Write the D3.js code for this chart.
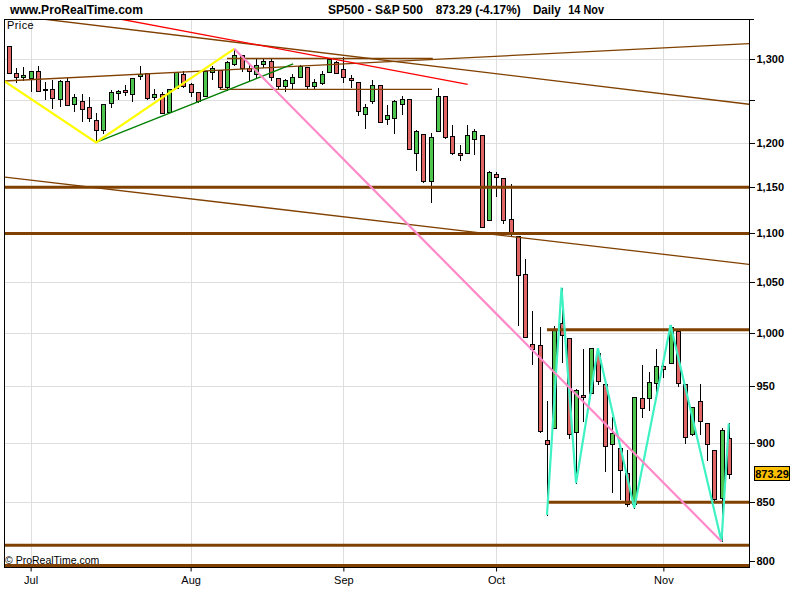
<!DOCTYPE html>
<html><head><meta charset="utf-8">
<script src="https://cdnjs.cloudflare.com/ajax/libs/d3/7.8.5/d3.min.js"></script>
<style>body{margin:0;background:#fff}svg{display:block}</style>
</head><body>
<svg id="c" width="800" height="600"></svg>
<script>
// ---------- DATA ----------
const dates = ["06-26","06-27","06-30",
"07-01","07-02","07-03","07-07","07-08","07-09","07-10","07-11","07-14","07-15","07-16","07-17","07-18","07-21","07-22","07-23","07-24","07-25","07-28","07-29","07-30","07-31",
"08-01","08-04","08-05","08-06","08-07","08-08","08-11","08-12","08-13","08-14","08-15","08-18","08-19","08-20","08-21","08-22","08-25","08-26","08-27","08-28","08-29",
"09-02","09-03","09-04","09-05","09-08","09-09","09-10","09-11","09-12","09-15","09-16","09-17","09-18","09-19","09-22","09-23","09-24","09-25","09-26","09-29","09-30",
"10-01","10-02","10-03","10-06","10-07","10-08","10-09","10-10","10-13","10-14","10-15","10-16","10-17","10-20","10-21","10-22","10-23","10-24","10-27","10-28","10-29","10-30","10-31",
"11-03","11-04","11-05","11-06","11-07","11-10","11-11","11-12","11-13","11-14"];

const openV = [1316.29,1283.60,1278.06,
1276.69,1285.82,1262.96,1262.90,1251.84,1273.38,1245.25,1248.66,1241.61,1226.83,1214.65,1246.31,1258.22,1261.82,1257.08,1278.87,1283.22,1253.51,1257.76,1236.38,1264.52,1281.37,
1269.42,1260.31,1254.87,1283.99,1286.51,1266.29,1294.42,1304.79,1288.64,1282.11,1293.85,1298.14,1276.65,1267.34,1271.07,1277.59,1290.47,1267.03,1271.29,1283.79,1296.49,
1287.83,1276.61,1271.80,1233.21,1249.50,1267.98,1227.50,1229.04,1245.88,1250.92,1188.31,1210.34,1157.08,1213.11,1255.37,1207.61,1188.79,1187.87,1204.47,1209.07,1113.78,
1164.17,1160.64,1115.16,1097.56,1057.60,988.91,988.42,902.31,912.75,1009.97,994.60,909.53,942.29,943.51,980.40,951.67,899.08,895.22,874.28,848.92,939.51,939.38,953.11,
968.67,971.31,1001.84,952.40,907.44,936.75,917.15,893.39,853.13,904.36];

const highV = [1316.29,1289.45,1290.31,
1285.31,1292.17,1271.48,1273.95,1274.17,1277.36,1257.65,1257.27,1253.50,1234.35,1245.52,1262.31,1262.23,1267.74,1277.42,1291.17,1283.22,1263.23,1260.09,1263.20,1284.33,1284.93,
1270.52,1260.31,1284.88,1291.67,1286.51,1297.85,1313.15,1304.79,1294.03,1300.11,1302.05,1300.22,1276.65,1276.01,1281.40,1293.09,1290.47,1275.65,1285.05,1300.68,1297.59,
1303.04,1280.60,1271.80,1244.94,1274.42,1268.66,1243.90,1249.98,1255.09,1250.92,1214.84,1210.34,1211.14,1265.12,1255.37,1221.15,1197.41,1220.03,1215.77,1209.07,1168.03,
1167.03,1160.64,1153.82,1097.56,1072.91,1021.06,1005.25,936.36,1006.93,1044.31,994.60,947.71,984.64,985.40,985.44,951.67,922.83,896.30,893.78,940.51,969.97,963.23,984.38,
975.57,1007.51,1001.84,952.40,931.46,951.95,917.15,893.39,913.01,916.88];

const lowV = [1283.15,1272.00,1274.86,
1260.68,1261.51,1252.01,1240.68,1242.84,1244.57,1236.76,1225.35,1225.01,1200.44,1211.39,1241.49,1251.81,1255.70,1248.83,1276.06,1251.48,1251.75,1234.37,1236.38,1264.52,1265.97,
1254.54,1247.45,1254.67,1276.00,1264.29,1262.11,1292.99,1285.64,1274.86,1276.84,1290.74,1274.51,1263.11,1261.16,1265.22,1277.59,1264.87,1263.21,1270.03,1283.79,1282.74,
1272.20,1265.59,1232.83,1217.23,1247.12,1224.51,1221.60,1211.54,1233.81,1192.70,1169.28,1155.88,1133.50,1213.11,1205.61,1187.06,1179.79,1187.87,1187.54,1106.42,1113.78,
1140.77,1111.43,1098.14,1007.97,996.23,970.97,909.19,839.80,912.75,972.07,903.99,865.83,918.74,943.51,952.47,875.81,858.44,852.85,846.75,845.27,922.26,928.50,944.59,
958.82,971.31,949.86,899.73,906.90,907.47,884.90,850.48,818.69,869.88];

const closeV = [1283.15,1278.38,1280.00,
1284.91,1261.52,1262.90,1252.31,1273.70,1244.69,1253.39,1239.49,1228.30,1214.91,1245.36,1260.32,1260.68,1260.00,1277.00,1282.19,1252.54,1257.76,1234.37,1263.20,1284.26,1267.38,
1260.31,1249.01,1284.88,1289.19,1266.07,1296.32,1305.32,1289.59,1285.83,1292.93,1298.20,1278.60,1266.69,1274.54,1277.72,1292.20,1266.84,1271.51,1281.66,1300.68,1282.83,
1277.58,1274.98,1236.83,1242.31,1267.79,1224.51,1232.04,1249.05,1251.70,1192.70,1213.60,1156.39,1206.51,1255.08,1207.09,1188.22,1185.87,1209.18,1213.27,1106.39,1166.36,
1161.06,1114.28,1099.23,1056.89,996.23,984.94,909.92,899.22,1003.35,998.01,907.84,946.43,940.55,985.40,955.05,896.78,908.11,876.77,848.92,940.51,930.09,954.09,968.75,
966.30,1005.75,952.77,904.88,930.99,919.21,898.95,852.30,911.29,873.29];

const priceTicks = [800,850,900,950,1000,1050,1100,1150,1200,1250,1300];
const priceTickLabels = ["800","850","900","950","1,000","1,050","1,100","1,150","1,200","","1,300"];
const monthLabels = ["Jul","Aug","Sep","Oct","Nov"];
const headerTexts = ["www.ProRealTime.com","SP500 - S&P 500","873.29 (-4.17%)","Daily","14 Nov"];

// drawings, as [bar index, price]
const yellowZigzag = [[-0.66,1273.2],[12,1200.44],[31,1313.15]];
const greenLine = [[12,1200.44],[39.1,1294.2]];
const redLine = [[15.3,1351.2],[63.1,1269.2]];
const pinkLine = [[31,1313.15],[98,818.69]];
const cyanZigzag = [[74,839.8],[76,1044.31],[78,865.83],[81,985.44],[86,845.27],[91,1007.51],[98,818.69],[99,916.88]];
const brownThin = [
  [[4.7,1351.2],[101.8,1245.1]],
  [[-0.66,1273.2],[101.8,1319.8]],
  [[-0.52,1161.2],[101.8,1067.9]],
  [[30.0,1301],[58.3,1301]],
  [[29.0,1263],[58.2,1263]]
];
const thickLevels = [1150,1100,1003,850,815.6,800];
const thickStart = [-1,-1,74,74,-1,-1];
const lastPrice = 873.29;

// ---------- LAYOUT ----------
const L=4, R=749, T=19, B=567;
const svg = d3.select("#c");
const FONT = "'Liberation Sans', Arial, Helvetica, sans-serif";
const xS = d3.scaleLinear().domain([0,99]).range([8.8,728.8]);
const yS = d3.scaleLog().domain([800,1300]).range([565.5,59.3]);
const rightIdx = xS.invert(R+2);

svg.append("defs").append("clipPath").attr("id","clip")
  .append("rect").attr("x",L).attr("y",T).attr("width",R-L).attr("height",B-T);

svg.append("rect").attr("width",800).attr("height",600).attr("fill","#fff");

// month starts
const monthIdx = [];
dates.forEach((d,i)=>{ if(i>0 && d.slice(0,2)!==dates[i-1].slice(0,2)) monthIdx.push(i); });

// grid
const grid = svg.append("g").attr("shape-rendering","crispEdges");
grid.selectAll("line.h").data(priceTicks).join("line")
  .attr("x1",L).attr("x2",R).attr("y1",d=>Math.round(yS(d))+0.5).attr("y2",d=>Math.round(yS(d))+0.5)
  .attr("stroke","#dedede");
grid.selectAll("line.v").data(monthIdx).join("line")
  .attr("y1",T).attr("y2",B).attr("x1",d=>Math.round(xS(d))+0.5).attr("x2",d=>Math.round(xS(d))+0.5)
  .attr("stroke","#dedede");

// candles
const bars = d3.range(dates.length).map(i=>({i,o:openV[i],h:highV[i],l:lowV[i],c:closeV[i]}));
const cg = svg.append("g").attr("shape-rendering","crispEdges").attr("clip-path","url(#clip)");
cg.selectAll("line.w").data(bars).join("line")
  .attr("x1",d=>Math.round(xS(d.i))+0.5).attr("x2",d=>Math.round(xS(d.i))+0.5)
  .attr("y1",d=>Math.round(yS(d.h))).attr("y2",d=>Math.round(yS(d.l))+1)
  .attr("stroke","#000");
cg.selectAll("rect.b").data(bars).join("rect")
  .attr("x",d=>Math.round(xS(d.i))-1.5).attr("width",4)
  .attr("y",d=>Math.round(yS(Math.max(d.o,d.c)))+0.5)
  .attr("height",d=>Math.max(1,Math.round(yS(Math.min(d.o,d.c)))-Math.round(yS(Math.max(d.o,d.c)))))
  .attr("fill",d=>d.c>=d.o?"#4ec64e":"#e06666").attr("stroke","#000");

// drawings
const dg = svg.append("g").attr("clip-path","url(#clip)").attr("fill","none");
const line = d3.line().x(d=>xS(d[0])).y(d=>yS(d[1]));
dg.selectAll("path.bt").data(brownThin).join("path").attr("d",line)
  .attr("stroke","#804000").attr("stroke-width",1.3);
dg.selectAll("line.tk").data(thickLevels).join("line")
  .attr("x1",(d,k)=>xS(thickStart[k])).attr("x2",xS(rightIdx))
  .attr("y1",d=>yS(d)).attr("y2",d=>yS(d))
  .attr("stroke","#804000").attr("stroke-width",3);
dg.append("path").datum(redLine).attr("d",line).attr("stroke","#ff0000").attr("stroke-width",1.3);
dg.append("path").datum(greenLine).attr("d",line).attr("stroke","#008000").attr("stroke-width",1.3);
dg.append("path").datum(yellowZigzag).attr("d",line).attr("stroke","#ffff00").attr("stroke-width",2.2);
dg.append("path").datum(cyanZigzag).attr("d",line).attr("stroke","#3ef2c4").attr("stroke-width",2.2);
dg.append("path").datum(pinkLine).attr("d",line).attr("stroke","#ff88c8").attr("stroke-width",2.2);

// border
svg.append("rect").attr("x",L+0.5).attr("y",T+0.5).attr("width",R-L).attr("height",B-T)
  .attr("fill","none").attr("stroke","#000").attr("shape-rendering","crispEdges");

// right axis
const ay = svg.append("g").attr("transform",`translate(${R+0.5},0)`)
  .call(d3.axisRight(yS).tickValues(priceTicks).tickFormat((d,k)=>priceTickLabels[k]).tickSize(5).tickPadding(2).tickSizeOuter(0));
ay.select(".domain").remove();
ay.selectAll(".tick").attr("transform",d=>`translate(0,${Math.min(Math.round(yS(d)), B-6)+0.5})`);
ay.selectAll(".tick line").attr("stroke","#000").attr("shape-rendering","crispEdges");
ay.selectAll(".tick text").attr("fill","#000").attr("font-family",FONT).attr("font-weight","bold").attr("font-size","11px");
svg.append("line").attr("x1",R).attr("x2",R+5).attr("y1",T+0.5).attr("y2",T+0.5).attr("stroke","#000");

// bottom axis
const ax = svg.append("g").attr("transform",`translate(0,${B+0.5})`)
  .call(d3.axisBottom(xS).tickValues(monthIdx).tickFormat((d,k)=>monthLabels[k]).tickSize(4).tickPadding(4.5).tickSizeOuter(0));
ax.select(".domain").remove();
ax.selectAll(".tick line").attr("stroke","#000");
ax.selectAll(".tick text").attr("fill","#000").attr("font-family",FONT).attr("font-size","11px");

// last price box
const ly = yS(lastPrice);
svg.append("rect").attr("x",754.5).attr("y",Math.round(ly)-7.5).attr("width",35).attr("height",14)
  .attr("fill","#ffc000").attr("stroke","#000").attr("shape-rendering","crispEdges");
svg.append("text").attr("x",772).attr("y",Math.round(ly)+4).attr("text-anchor","middle")
  .attr("font-family",FONT).attr("font-weight","bold").attr("font-size","11px").text(lastPrice.toFixed(2));

// header texts
const hdrX = [10,328,435.7,533,568.3];
const hdrW = [133,95,85,27.7,35.7];
const hdr = svg.append("g").attr("font-family",FONT).attr("font-weight","bold").attr("font-size","13px").attr("fill","#000");
hdr.selectAll("text").data(headerTexts).join("text")
  .attr("x",(d,k)=>hdrX[k]).attr("y",14)
  .attr("textLength",(d,k)=>hdrW[k]).attr("lengthAdjust","spacingAndGlyphs")
  .text(d=>d);

svg.append("text").attr("x",7).attr("y",29).attr("font-family",FONT).attr("font-size","11px").attr("letter-spacing","0.4").text("Price");
svg.append("text").attr("x",5).attr("y",564).attr("font-family",FONT).attr("font-size","10.5px").text("© ProRealTime.com");
</script>
</body></html>
